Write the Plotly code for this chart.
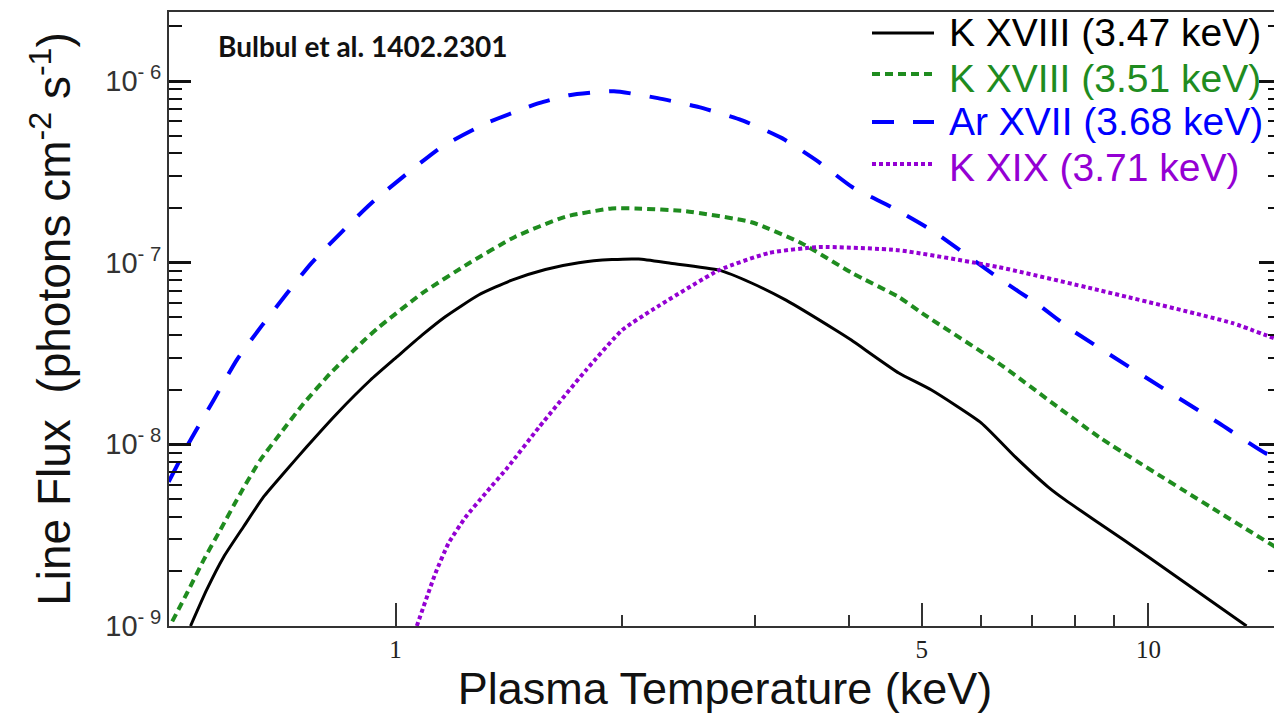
import plotly.graph_objects as go

# ---------------- data ----------------
k18a_T = [0.534, 0.561, 0.591, 0.628, 0.668, 0.710, 0.762, 0.836, 0.926, 1.004, 1.084, 1.164, 1.289, 1.427, 1.581, 1.751, 1.938, 2.103, 2.31, 2.69, 2.97, 3.3, 3.84, 4.03, 4.66, 5.15, 6.0, 6.66, 7.36, 7.76, 8.59, 10.0, 13.5]
k18a_F = [1.0e-9, 1.58e-9, 2.40e-9, 3.52e-9, 5.15e-9, 6.93e-9, 9.70e-9, 1.48e-8, 2.26e-8, 3.03e-8, 3.99e-8, 5.04e-8, 6.64e-8, 8.02e-8, 9.18e-8, 1.0e-7, 1.04e-7, 1.047e-7, 9.95e-8, 9.1e-8, 7.73e-8, 6.22e-8, 4.26e-8, 3.75e-8, 2.47e-8, 1.99e-8, 1.31e-8, 8.5e-9, 5.82e-9, 4.93e-9, 3.69e-9, 2.4e-9, 1.0e-9]

k18b_T = [0.505, 0.528, 0.556, 0.585, 0.622, 0.661, 0.703, 0.755, 0.819, 0.907, 0.949, 1.084, 1.25, 1.442, 1.68, 1.938, 2.082, 2.43, 2.97, 3.46, 4.04, 4.66, 5.0, 6.32, 8.59, 14.75]
k18b_F = [1.06e-9, 1.51e-9, 2.31e-9, 3.38e-9, 5.37e-9, 8.2e-9, 1.149e-8, 1.68e-8, 2.46e-8, 3.72e-8, 4.40e-8, 6.78e-8, 9.9e-8, 1.39e-7, 1.79e-7, 1.99e-7, 1.99e-7, 1.92e-7, 1.67e-7, 1.28e-7, 8.77e-8, 6.47e-8, 5.28e-8, 2.8e-8, 1.1e-8, 2.72e-9]

ar17_T = [0.4995, 0.531, 0.573, 0.615, 0.665, 0.773, 0.929, 1.15, 1.32, 1.55, 1.70, 1.95, 2.23, 2.53, 2.88, 3.26, 3.65, 4.04, 4.56, 5.15, 6.38, 7.15, 7.91, 9.91, 12.4, 14.3, 15.0]
ar17_F = [6.22e-9, 1.013e-8, 1.75e-8, 2.91e-8, 4.53e-8, 9.95e-8, 2.13e-7, 4.33e-7, 5.86e-7, 7.55e-7, 8.36e-7, 8.79e-7, 8.05e-7, 7.18e-7, 6.1e-7, 4.85e-7, 3.58e-7, 2.61e-7, 2.02e-7, 1.51e-7, 8.02e-8, 5.85e-8, 4.26e-8, 2.34e-8, 1.31e-8, 8.95e-9, 8.41e-9]

k19_T = [1.067, 1.13, 1.176, 1.239, 1.317, 1.41, 1.55, 1.79, 2.0, 2.19, 2.69, 3.13, 3.65, 4.66, 6.32, 8.59, 12.9, 14.9]
k19_F = [1.0e-9, 1.96e-9, 2.86e-9, 3.98e-9, 5.39e-9, 7.5e-9, 1.24e-8, 2.56e-8, 4.26e-8, 5.48e-8, 9.1e-8, 1.13e-7, 1.22e-7, 1.17e-7, 9.46e-8, 7.06e-8, 4.66e-8, 3.75e-8]

series_names = ["K XVIII (3.47 keV)", "K XVIII (3.51 keV)", "Ar XVII (3.68 keV)", "K XIX (3.71 keV)"]

x_major = [1, 5, 10]
x_major_text = ["1", "5", "10"]
x_minor = [2, 3, 4, 6, 7, 8, 9]
y_major = [1e-9, 1e-8, 1e-7, 1e-6]
y_major_text = ["10<sup>- 9</sup>", "10<sup>- 8</sup>", "10<sup>- 7</sup>", "10<sup>- 6</sup>"]
y_minor = [k * 10.0 ** e for e in (-9, -8, -7) for k in range(2, 10)] + [2e-6]

# ---------------- layout geometry ----------------
OFF = 8                              # page body margin
W, H = 1282 - OFF, 714 - OFF         # figure size
PL, PR, PT, PB = 169, 1281, 12, 626  # plot area in page pixels
L, R, T, B = PL - OFF, PR - OFF, PT - OFF, PB - OFF

colors = ["#000000", "#1f8c1f", "#0000ff", "#9400d3"]
dashes = ["solid", "8px,5px", "22px,19px", "4px,3px"]
widths = [3, 4, 4, 4]
xs = [k18a_T, k18b_T, ar17_T, k19_T]
ys = [k18a_F, k18b_F, ar17_F, k19_F]

fig = go.Figure()
for name, x, y, c, d, w in zip(series_names, xs, ys, colors, dashes, widths):
    fig.add_trace(go.Scatter(x=x, y=y, mode="lines", name=name, showlegend=False,
                             line=dict(color=c, dash=d, width=w, shape="spline", smoothing=0.5)))

def pxx(p):   # page pixel -> paper x
    return (p - PL) / (PR - PL)

def pxy(p):   # page pixel -> paper y
    return (PB - p) / (PB - PT)

# manual legend (long line samples + coloured labels)
leg_line_y = [33, 74, 122, 164]
leg_text_y = [32, 78, 122, 167]
for name, c, d, w, ly, ty in zip(series_names, colors, dashes, widths, leg_line_y, leg_text_y):
    fig.add_shape(type="line", xref="paper", yref="paper",
                  x0=pxx(872), x1=pxx(934), y0=pxy(ly), y1=pxy(ly),
                  line=dict(color=c, dash=d, width=w))
    fig.add_annotation(xref="paper", yref="paper", x=pxx(947), y=pxy(ty),
                       xanchor="left", yanchor="middle", showarrow=False, text=name,
                       font=dict(family="Liberation Sans", size=39, color=c))

fig.add_annotation(xref="paper", yref="paper", x=pxx(216), y=pxy(46),
                   xanchor="left", yanchor="middle", showarrow=False,
                   text="<b>Bulbul et al. 1402.2301</b>",
                   font=dict(family="Lato", size=28, color="#111111"))

fig.update_layout(
    width=W, height=H,
    margin=dict(l=L, r=W - R, t=T, b=H - B, autoexpand=False),
    paper_bgcolor="white", plot_bgcolor="white",
    showlegend=False,
    xaxis=dict(
        type="log", range=[-0.30103, 1.17609],
        tickmode="array", tickvals=x_major, ticktext=x_major_text,
        ticks="inside", ticklen=23, tickwidth=2, tickcolor="#333333",
        minor=dict(tickmode="array", tickvals=x_minor, ticks="inside", ticklen=11,
                   tickwidth=2, tickcolor="#333333", showgrid=False),
        showline=True, linecolor="#333333", linewidth=2, mirror=True,
        showgrid=False, zeroline=False,
        tickfont=dict(family="Liberation Serif", size=25, color="#222222"),
        title=dict(text="Plasma Temperature (keV)", standoff=14,
                   font=dict(family="Liberation Sans", size=45, color="#111111")),
    ),
    yaxis=dict(
        type="log", range=[-9, -5.62],
        tickmode="array", tickvals=y_major, ticktext=y_major_text,
        ticks="inside", ticklen=22, tickwidth=3, tickcolor="#111111",
        minor=dict(tickmode="array", tickvals=y_minor, ticks="inside", ticklen=13,
                   tickwidth=2, tickcolor="#111111", showgrid=False),
        showline=True, linecolor="#333333", linewidth=2, mirror="ticks",
        showgrid=False, zeroline=False,
        tickfont=dict(family="Liberation Sans", size=29, color="#333333"),
        title=dict(text="Line Flux  (photons cm<sup>-2</sup> s<sup>-1</sup>)", standoff=20,
                   font=dict(family="Liberation Sans", size=46, color="#111111")),
    ),
)

fig.write_html("out.html")
